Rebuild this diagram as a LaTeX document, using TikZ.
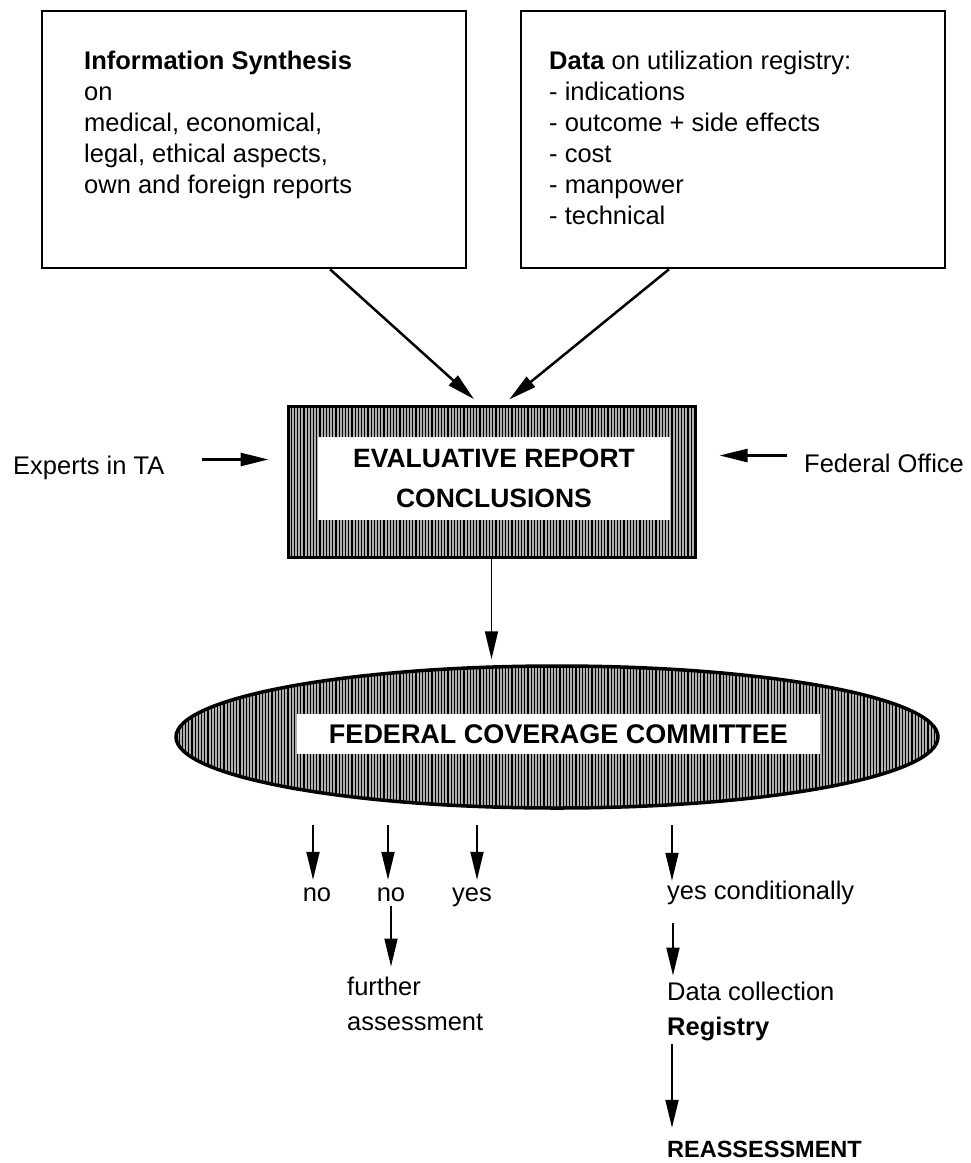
\documentclass[tikz,border=0pt]{standalone}
\usepackage{fontspec}
\setmainfont{Liberation Sans}
\usetikzlibrary{positioning,arrows.meta,shapes.geometric,patterns.meta}

\tikzset{
  txt/.style={inner sep=0pt, align=left, anchor=north west},
  lbl/.style={inner sep=0pt, text height=18pt, text depth=5pt, anchor=base west},
  arr/.style={line width=1.8pt, -{Triangle[length=28pt,width=13pt]}},
  hatch/.style={fill=gray!62, postaction={pattern={Lines[angle=90,distance=3.2pt,line width=1.2pt]}}},
}

\begin{document}
\begin{tikzpicture}[x=1pt,y=-1pt,font=\fontsize{25.5}{31}\selectfont]
  \useasboundingbox (0,0) rectangle (971,1163);
  \node [draw, line width=2.5pt, minimum width=424, minimum height=257] (synth) at (254,139.5) {};
  \node [draw, line width=2.5pt, minimum width=424, minimum height=257] (data) at (733,139.5) {};
  \node [txt] (synthtxt) at (84,50.5) {\textbf{Information Synthesis}\\on\\medical, economical,\\legal, ethical aspects,\\own and foreign reports};
  \node [txt] (datatxt) at (549,50.5) {\textbf{Data} on utilization registry:\\- indications\\- outcome + side effects\\- cost\\- manpower\\- technical};

  \node [draw, line width=3pt, hatch, minimum width=407, minimum height=151] (eval) at (491.5,481.5) {};
  \node [fill=white, minimum width=352, minimum height=83, align=center] (evaltxt) at (494,478.5)
    {\fontsize{26.5}{31}\selectfont\textbf{EVALUATIVE REPORT}\\[9pt]\fontsize{26.5}{31}\selectfont\textbf{CONCLUSIONS}};
  \node [lbl] (experts) at (13,474) {Experts in TA};
  \node [lbl] (fedoff) at (804,472) {Federal Office};

  \node [ellipse, draw, line width=3.5pt, hatch, minimum width=762, minimum height=142, inner sep=0pt] (fcc) at (557,737) {};
  \node [fill=white, minimum width=523, minimum height=40, inner sep=0pt] (fcctxt) at (558.5,734)
    {\fontsize{27}{31}\selectfont\textbf{FEDERAL COVERAGE COMMITTEE}};

  \coordinate (t1) at (313,825);
  \coordinate (t2) at (388,825);
  \coordinate (t3) at (477,825);
  \coordinate (t4) at (672,825);
  \coordinate (t5) at (673,923);
  \coordinate (t6) at (672,1044);
  \node [lbl, anchor=base] (no1) at (317,901) {no};
  \node [lbl, anchor=base] (no2) at (391,901) {no};
  \node [lbl, anchor=base] (yes) at (472,901) {yes};
  \node [lbl] (yescond) at (667,899) {yes conditionally};
  \node [txt, font=\fontsize{25.5}{35}\selectfont] (further) at (347,976.5) {further\\assessment};
  \node [txt, font=\fontsize{25.5}{35}\selectfont] (datacoll) at (667,981.5) {Data collection\\\textbf{Registry}};
  \node [lbl, text depth=0pt] (reass) at (667,1157) {\fontsize{23.5}{31}\selectfont\textbf{REASSESSMENT}};

  \draw [arr, line width=2.5pt, shorten >=8pt] ([xshift=76pt]synth.south) -- ([xshift=-11.5pt]eval.north);
  \draw [arr, line width=2.5pt, shorten >=8pt] ([xshift=-64pt]data.south) -- ([xshift=11.5pt]eval.north);
  \draw [arr, line width=2.5pt, shorten <=37pt, shorten >=18pt] ([yshift=8pt]experts.east) -- ([yshift=8pt]experts.east -| eval.west);
  \draw [arr, line width=2.5pt, shorten <=17pt, shorten >=23pt] ([yshift=10pt]fedoff.west) -- ([yshift=10pt]fedoff.west -| eval.east);
  \draw [arr, shorten >=5pt] (eval.south) -- (eval.south |- fcc.north);
  \draw [arr, shorten >=3pt] (t1) -- (t1 |- no1.north);
  \draw [arr, shorten >=3pt] (t2) -- (t2 |- no2.north);
  \draw [arr, shorten >=3pt] (t3) -- (t3 |- yes.north);
  \draw [arr] (t4) -- (t4 |- yescond.north);
  \draw [arr, shorten >=10pt] (no2.south) -- (no2.south |- further.north);
  \draw [arr, shorten >=6pt] (t5) -- (t5 |- datacoll.north);
  \draw [arr, shorten >=11pt] (t6) -- (t6 |- reass.north);
\end{tikzpicture}
\end{document}
